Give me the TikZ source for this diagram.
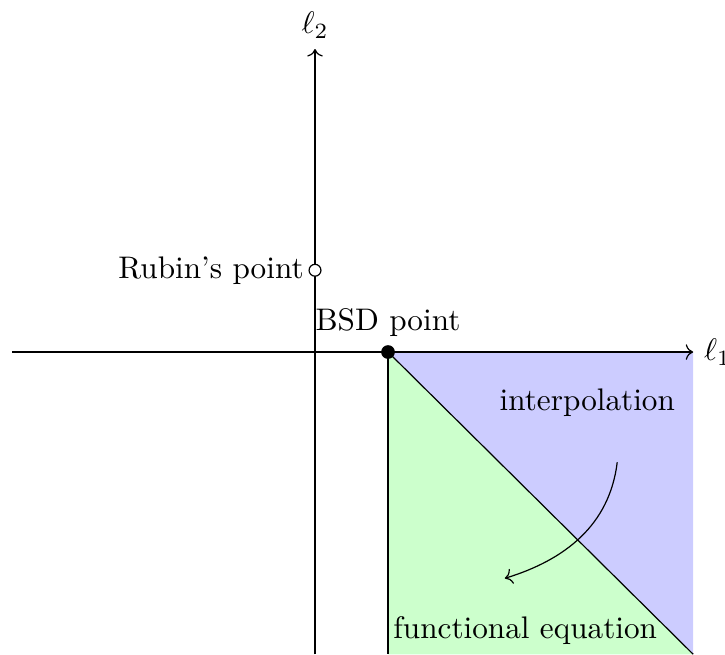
\documentclass[tikz,border=0pt]{standalone}
\usepackage{amsmath}
\usepackage{amssymb}
\usetikzlibrary{positioning, arrows.meta, calc}
\usepackage{xcolor}

\begin{document}
\begin{tikzpicture}[x=0.855cm, y=0.855cm, every node/.style={scale=1.04}]
\useasboundingbox (-4.315, -4.137) rectangle (5.616, 4.822);

% Regions
\fill[blue!20] (1, 0) -- (5.18, 0) -- (5.18, -4.14) -- cycle;
\fill[green!20] (1, 0) -- (1, -4.14) -- (5.18, -4.14) -- cycle;

% Axes
\coordinate (xstart) at (-4.15, 0);
\coordinate (xend) at (5.18, 0);
\coordinate (ystart) at (0, -4.14);
\coordinate (yend) at (0, 4.15);
\draw[->] (xstart) -- (xend) node[right] {$\ell_1$};
\draw[->] (ystart) -- (yend) node[above] {$\ell_2$};

% Region boundaries
\coordinate (bsd) at (1, 0);
\coordinate (lowleft) at (1, -4.14);
\coordinate (lowright) at (5.18, -4.14);
\draw (bsd) -- (lowleft);
\draw (bsd) -- (lowright);

% Points
\node[circle, fill=black, inner sep=0pt, minimum size=4.4pt, label={[label distance=-1pt]above:BSD point}] (bsdpt) at (bsd) {};
\node[circle, draw, fill=white, inner sep=0pt, minimum size=3.8pt, label={[label distance=-2pt]left:Rubin's point}] (rubin) at (0, 1.12) {};

% Labels
\node (interp) at (3.73, -0.70) {interpolation};
\node (funeq) at (2.88, -3.81) {functional equation};

% Curved arrow
\coordinate (arrstart) at (4.14, -1.51);
\coordinate (arrend) at (2.60, -3.10);
\draw[->] (arrstart) to[out=-97, in=17] (arrend);
\end{tikzpicture}
\end{document}
